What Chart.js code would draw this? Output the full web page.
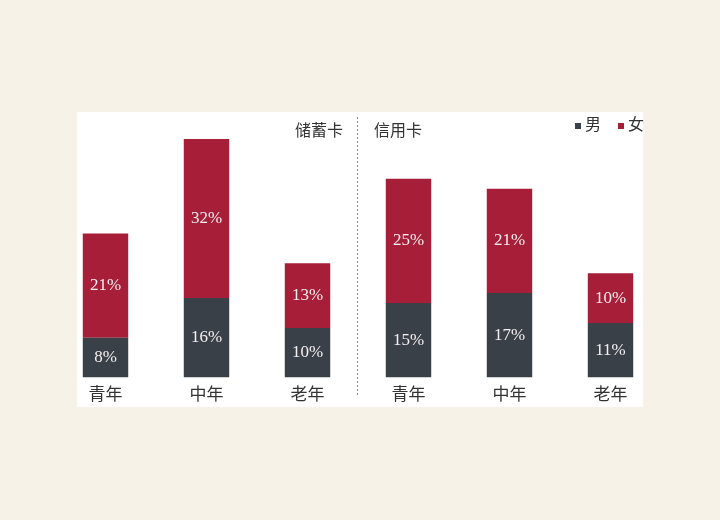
<!DOCTYPE html>
<html lang="zh">
<head>
  <meta charset="UTF-8" />
  <title>储蓄卡 / 信用卡 用户性别年龄分布</title>
  <script src="https://cdn.jsdelivr.net/npm/chart.js@4.4.0/dist/chart.umd.min.js"></script>
  <style>
    html, body {
      margin: 0;
      padding: 0;
      background: #f6f2e7;
    }
    #wrap {
      position: relative;
      width: 720px;
      height: 520px;
    }
    #panel {
      position: absolute;
      left: 77px;
      top: 112px;
      width: 566px;
      height: 295px;
      background: #fff;
    }
    #chart {
      position: absolute;
      left: 0;
      top: 0;
    }
  </style>
</head>
<body>
  <div id="wrap">
    <div id="panel"></div>
    <canvas id="chart" width="720" height="520"></canvas>
  </div>

  <script>
    // === data ===
    const categories = ['青年', '中年', '老年', '青年', '中年', '老年'];
    const groups = ['储蓄卡', '信用卡'];
    const seriesNames = ['男', '女'];
    const male = [8, 16, 10, 15, 17, 11];
    const female = [21, 32, 13, 25, 21, 10];
    const colors = ['#394048', '#a61e38'];

    const FONT = '"Liberation Serif", "Noto Sans CJK SC", serif';

    // value labels inside each segment, divider, group titles, legend
    const decorations = {
      id: 'decorations',
      afterDatasetsDraw(chart) {
        const ctx = chart.ctx;
        ctx.save();
        ctx.textAlign = 'center';
        ctx.textBaseline = 'middle';
        ctx.font = '17px ' + FONT;
        ctx.fillStyle = '#f4eef0';
        chart.data.datasets.forEach((ds, di) => {
          chart.getDatasetMeta(di).data.forEach((bar, i) => {
            const yMid = (bar.y + bar.base) / 2;
            ctx.fillText(ds.data[i] + '%', bar.x, yMid);
          });
        });
        ctx.restore();
      },
      afterDraw(chart) {
        const ctx = chart.ctx;
        const x = chart.scales.x;
        const area = chart.chartArea;
        const split = (x.getPixelForValue(2) + x.getPixelForValue(3)) / 2;

        ctx.save();
        // dashed divider between the two card types
        ctx.strokeStyle = '#8c8c8c';
        ctx.lineWidth = 1;
        ctx.setLineDash([2, 2]);
        ctx.beginPath();
        ctx.moveTo(Math.round(split) - 0.5, area.top - 12);
        ctx.lineTo(Math.round(split) - 0.5, area.bottom + 19);
        ctx.stroke();
        ctx.setLineDash([]);

        // group titles
        ctx.font = '16px ' + FONT;
        ctx.fillStyle = '#333';
        ctx.textBaseline = 'middle';
        ctx.textAlign = 'right';
        ctx.fillText(groups[0], split - 15, area.top + 3);
        ctx.textAlign = 'left';
        ctx.fillText(groups[1], split + 16, area.top + 3);

        // legend
        let lx = area.right - 86;
        const ly = area.top - 3;
        chart.data.datasets.forEach((ds) => {
          ctx.fillStyle = ds.backgroundColor;
          ctx.fillRect(lx, ly - 3, 6, 6);
          ctx.fillStyle = '#333';
          ctx.textAlign = 'left';
          ctx.fillText(ds.label, lx + 10, ly);
          lx += 43;
        });
        ctx.restore();
      }
    };

    new Chart(document.getElementById('chart'), {
      type: 'bar',
      data: {
        labels: categories,
        datasets: [
          {
            label: seriesNames[0],
            data: male,
            backgroundColor: colors[0],
            barPercentage: 1,
            categoryPercentage: 0.45
          },
          {
            label: seriesNames[1],
            data: female,
            backgroundColor: colors[1],
            barPercentage: 1,
            categoryPercentage: 0.45
          }
        ]
      },
      options: {
        responsive: false,
        animation: false,
        layout: {
          padding: { left: 55, right: 59, top: 129, bottom: 106 }
        },
        scales: {
          x: {
            stacked: true,
            grid: { display: false, drawTicks: false },
            border: { display: false },
            ticks: {
              color: '#333',
              padding: 8,
              font: { family: FONT, size: 17 }
            }
          },
          y: {
            stacked: true,
            display: false,
            min: 0,
            max: 50
          }
        },
        plugins: {
          legend: { display: false },
          tooltip: { enabled: false }
        }
      },
      plugins: [decorations]
    });
  </script>
</body>
</html>
